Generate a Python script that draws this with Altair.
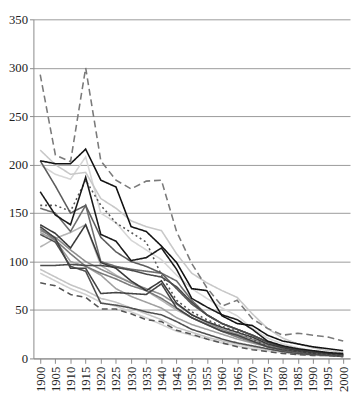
import altair as alt
import pandas as pd

years = list(range(1900, 2001, 5))

# series values, drawn light ones first
s_light_k = [200, 190, 185, 208, 150, 140, 122, 112, 102, 86, 72, 62, 52, 44, 31, 21, 15, 11, 8, 6, 4]
s_light_top = [215, 200, 190, 192, 165, 155, 142, 136, 132, 108, 88, 78, 70, 63, 46, 31, 21, 15, 11, 8, 6]
s_light_g = [92, 84, 76, 70, 62, 58, 52, 46, 40, 32, 27, 22, 18, 15, 12, 9, 7, 5, 4, 3, 2]
s_light_h = [88, 80, 72, 66, 58, 54, 48, 42, 35, 28, 24, 20, 16, 13, 10, 8, 6, 4, 3, 3, 2]
s_light_f = [115, 124, 130, 138, 96, 86, 78, 70, 60, 50, 42, 35, 28, 23, 18, 13, 9, 7, 5, 4, 3]
s_gray_i = [130, 122, 100, 95, 86, 72, 64, 58, 52, 42, 35, 30, 25, 20, 16, 12, 9, 7, 5, 4, 3]
s_gray_e = [132, 125, 112, 100, 92, 85, 78, 72, 66, 56, 45, 37, 30, 25, 20, 14, 10, 7, 5, 4, 3]
s_gray_d = [134, 122, 108, 95, 88, 82, 75, 70, 62, 52, 42, 35, 28, 22, 17, 12, 8, 6, 5, 4, 3]
s_gray_a = [155, 150, 131, 158, 100, 95, 92, 90, 88, 80, 60, 45, 36, 30, 24, 17, 12, 9, 7, 5, 4]
s_dark_f = [204, 178, 150, 158, 125, 110, 100, 95, 88, 72, 56, 45, 36, 30, 24, 17, 12, 9, 7, 5, 4]
s_dark_j = [128, 120, 95, 90, 57, 55, 52, 48, 45, 38, 30, 25, 20, 16, 13, 10, 7, 5, 4, 3, 2]
s_dark_flat = [96, 96, 97, 96, 96, 94, 91, 87, 84, 74, 58, 45, 36, 30, 24, 17, 12, 9, 7, 5, 4]
s_dark_c = [136, 124, 93, 93, 67, 68, 67, 66, 77, 52, 42, 35, 28, 24, 18, 12, 9, 7, 5, 4, 3]
s_dark_b = [138, 129, 114, 138, 99, 93, 80, 70, 80, 57, 45, 38, 32, 27, 22, 15, 11, 8, 6, 5, 4]
s_dash_low = [78, 75, 66, 63, 51, 51, 46, 40, 38, 29, 25, 20, 16, 12, 9, 7, 5, 4, 3, 3, 2]
s_dotted = [158, 158, 152, 184, 158, 140, 130, 120, 86, 60, 48, 40, 33, 28, 20, 13, 9, 7, 5, 4, 3]
s_black_2 = [172, 148, 138, 187, 128, 121, 101, 104, 114, 92, 62, 53, 45, 40, 30, 18, 13, 10, 8, 6, 5]
s_black_top = [204, 201, 201, 216, 184, 177, 136, 131, 116, 99, 72, 70, 44, 36, 34, 24, 18, 15, 12, 10, 8]
s_dash_top = [293, 210, 203, 300, 204, 184, 175, 183, 184, 131, 98, 73, 54, 60, 41, 31, 24, 26, 24, 22, 18]

series_names = [
    "a_light_k", "b_light_top", "c_light_g", "d_light_h", "e_light_f", "f_gray_i",
    "g_gray_e", "h_gray_d", "i_gray_a", "j_dark_f", "k_dark_j", "l_dark_flat",
    "m_dark_c", "n_dark_b", "o_dash_low", "p_dotted", "q_black_2", "r_black_top", "s_dash_top",
]
series_values = [
    s_light_k, s_light_top, s_light_g, s_light_h, s_light_f, s_gray_i,
    s_gray_e, s_gray_d, s_gray_a, s_dark_f, s_dark_j, s_dark_flat,
    s_dark_c, s_dark_b, s_dash_low, s_dotted, s_black_2, s_black_top, s_dash_top,
]
series_colors = [
    "#d6d6d6", "#c8c8c8", "#c4c4c4", "#d0d0d0", "#b4b4b4", "#a0a0a0",
    "#8c8c8c", "#7a7a7a", "#6e6e6e", "#5c5c5c", "#505050", "#4a4a4a",
    "#444444", "#3a3a3a", "#555555", "#555555", "#1a1a1a", "#111111", "#7a7a7a",
]
series_dash = [
    [1, 0], [1, 0], [1, 0], [1, 0], [1, 0], [1, 0],
    [1, 0], [1, 0], [1, 0], [1, 0], [1, 0], [1, 0],
    [1, 0], [1, 0], [6, 4], [2, 3], [1, 0], [1, 0], [7, 4],
]
series_width = [
    1.6, 1.6, 1.6, 1.6, 1.6, 1.6,
    1.6, 1.6, 1.8, 1.8, 1.8, 2.0,
    2.0, 2.0, 2.0, 2.0, 2.2, 2.2, 2.2,
]

rows = []
for name, vals in zip(series_names, series_values):
    for yr, v in zip(years, vals):
        rows.append({"year": yr, "value": v, "series": name})
df = pd.DataFrame(rows)

serif = "Liberation Serif"

chart = alt.Chart(df).mark_line(strokeJoin="miter").encode(
    x=alt.X(
        "year:O",
        scale=alt.Scale(type="point", padding=0.45),
        axis=alt.Axis(
            title=None, labelAngle=-90, grid=False, ticks=True, tickSize=5,
            domainColor="#888888", tickColor="#888888", labelFont=serif,
            labelFontSize=13, labelColor="#222222", labelPadding=3,
        ),
    ),
    y=alt.Y(
        "value:Q",
        scale=alt.Scale(domain=[0, 350], nice=False),
        axis=alt.Axis(
            title=None, values=[0, 50, 100, 150, 200, 250, 300, 350], grid=True,
            gridColor="#9a9a9a", gridWidth=1, domainColor="#888888", tickColor="#888888",
            tickSize=4, labelFont=serif, labelFontSize=13, labelColor="#222222",
            labelPadding=2,
        ),
    ),
    color=alt.Color("series:N", scale=alt.Scale(domain=series_names, range=series_colors), legend=None),
    strokeDash=alt.StrokeDash("series:N", scale=alt.Scale(domain=series_names, range=series_dash), legend=None),
    strokeWidth=alt.StrokeWidth("series:N", scale=alt.Scale(domain=series_names, range=series_dash and series_width), legend=None),
    order=alt.Order("year:Q"),
).properties(
    width=324, height=347,
    autosize=alt.AutoSizeParams(type="none"),
    padding={"left": 26, "top": 7, "right": 1, "bottom": 40},
).configure_view(stroke=None)

chart.save("out.html", embed_options={"renderer": "svg", "actions": False})
